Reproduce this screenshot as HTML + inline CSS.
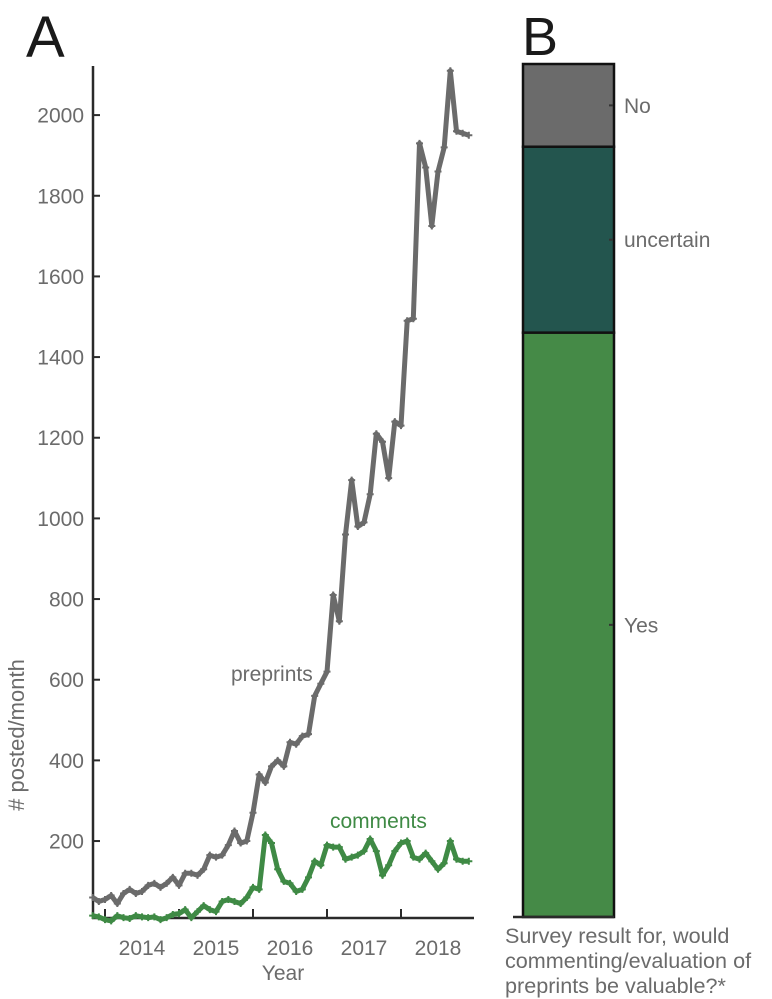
<!DOCTYPE html>
<html><head><meta charset="utf-8"><style>
html,body{margin:0;padding:0;background:#fff;}
svg{display:block;font-family:"Liberation Sans",sans-serif;}
</style></head><body>
<svg id="c" width="772" height="999" viewBox="0 0 772 999">
<text x="26" y="57" font-size="58" fill="#1a1a1a">A</text>
<text x="522" y="55" font-size="54" fill="#1a1a1a">B</text>
<g id="pa"></g>
<g id="pb"></g>
</svg>
<script>
const years = [2014, 2015, 2016, 2017, 2018];
const yTicks = [200, 400, 600, 800, 1000, 1200, 1400, 1600, 1800, 2000];
const startMonth = -2; // Nov 2013, relative to Jan 2014
const preprints = [60,50, 55,65,45,70,80,70,75,90,95,85,95,110, 90,120,120,115,130,165,160,165,190,225,195,200,
  270,365,345,385,400,385,445,440,460,465,560,590, 620,810,745,960,1095,980,990,1060,1210,1190,1100,1240,
  1230,1490,1495,1930,1870,1725,1860,1920,2110,1960,1955,1950];
const comments = [15,12, 5,2,15,10,8,15,12,10,12,5,10,18, 20,30,10,25,40,30,25,50,55,50,45,60,
  85,80,215,195,130,100,95,75,80,110,150,140, 190,185,185,155,160,165,175,205,175,115,140,175,
  195,200,160,155,170,150,130,145,200,155,150,150];
const surveyCats = ["No", "uncertain", "Yes"];
const surveyVals = [9.7, 21.8, 68.5];
const surveyColors = ["#6b6b6b", "#23554e", "#458a47"];

const NS = "http://www.w3.org/2000/svg";
function mk(tag, attrs, parent, text){const e=document.createElementNS(NS,tag);for(const k in attrs)e.setAttribute(k,attrs[k]);if(text!==undefined)e.textContent=text;parent.appendChild(e);return e;}
const pa = document.getElementById('pa');
const xM = m => 105 + m * 74 / 12;
const yV = v => 921.7 - v * 0.4033;
const axisCol = "#2a2a2a", txt = "#6b6b6b";
const FS = 21;

let ya = mk('line',{x1:93,y1:66,x2:93,y2:919,stroke:axisCol,'stroke-width':2.5},pa);


let xa = mk('line',{x1:92,y1:918,x2:474,y2:918,stroke:axisCol,'stroke-width':2.5},pa);


yTicks.forEach(v=>{
  const y=yV(v);
  let t=mk('line',{x1:93,y1:y,x2:100,y2:y,stroke:axisCol,'stroke-width':2},pa);
  
  
  let l=mk('text',{x:84,y:y+7.5,'font-size':FS,fill:txt,'text-anchor':'end'},pa,String(v));
  
  
});
years.forEach((yr,i)=>{
  const x0=xM(i*12);
  let t=mk('line',{x1:x0,y1:918,x2:x0,y2:909,stroke:axisCol,'stroke-width':2},pa);
  
  
  let l=mk('text',{x:xM(i*12+6),y:955,'font-size':FS,fill:txt,'text-anchor':'middle'},pa,String(yr));
  
  
});
let xt=mk('text',{x:283,y:980,'font-size':FS,fill:txt,'text-anchor':'middle'},pa,'Year');


let yt=mk('text',{x:0,y:0,'font-size':22,fill:txt,'text-anchor':'middle',transform:'translate(24,735) rotate(-90)'},pa,'# posted/month');



function series(vals,col,name){
  const pts=vals.map((v,i)=>xM(startMonth+i).toFixed(1)+','+yV(v).toFixed(1)).join(' ');
  let p=mk('polyline',{points:pts,fill:'none',stroke:col,'stroke-width':5,'stroke-linejoin':'round'},pa);
  
  
  vals.forEach((v,i)=>{
    const x=xM(startMonth+i),y=yV(v);
    let m=mk('path',{d:`M${x-3.5},${y}H${x+3.5}M${x},${y-3.5}V${y+3.5}`,stroke:col,'stroke-width':2},pa);
    
    
  });
}
series(preprints,'#6b6b6b','preprints');
series(comments,'#3f8a45','comments');
let lp=mk('text',{x:231,y:681,'font-size':FS,fill:'#6b6b6b'},pa,'preprints');


let lc=mk('text',{x:330,y:828,'font-size':FS,fill:'#3f8a45'},pa,'comments');



// Panel B
const pb=document.getElementById('pb');
const bx=523,bw=91,bTop=64,bBot=917;
const total=surveyVals.reduce((a,b)=>a+b,0);
let acc=0;
surveyVals.forEach((v,i)=>{
  const y0=bTop+(bBot-bTop)*acc/total, h=(bBot-bTop)*v/total;
  let r=mk('rect',{x:bx,y:y0,width:bw,height:h,fill:surveyColors[i],stroke:'#111','stroke-width':2.5},pb);
  
  
  const cy=y0+h/2;
  let t=mk('line',{x1:609,y1:cy,x2:613,y2:cy,stroke:'#333','stroke-width':2},pb);
  
  
  let l=mk('text',{x:624,y:cy+7.5,'font-size':FS,fill:txt},pb,surveyCats[i]);
  
  
  acc+=v;
});
let bl=mk('line',{x1:513,y1:917,x2:614,y2:917,stroke:axisCol,'stroke-width':2.5},pb);


['Survey result for, would','commenting/evaluation of','preprints be valuable?*'].forEach((s,i)=>{
  let t=mk('text',{x:505,y:943+i*25,'font-size':21.6,fill:txt},pb,s);
  
  
});
</script>
</body></html>
